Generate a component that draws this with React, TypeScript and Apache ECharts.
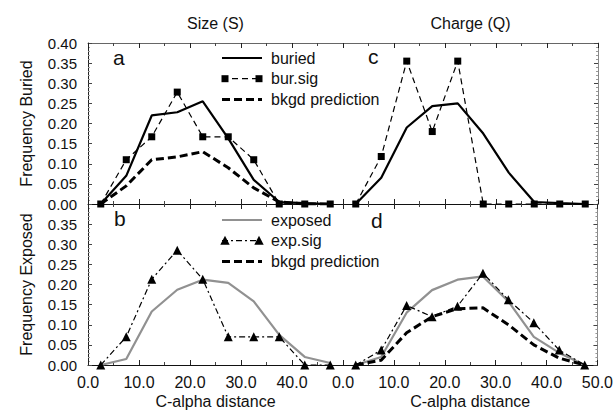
import React, { useEffect, useRef } from "react";
import * as echarts from "echarts";

const distances = [2.5, 7.5, 12.5, 17.5, 22.5, 27.5, 32.5, 37.5, 42.5, 47.5];

// Panel a (Size, buried)
const aBuried = [0, 0.07, 0.22, 0.228, 0.255, 0.163, 0.06, 0.005, 0.002, 0];
const aBurSig = [0, 0.11, 0.167, 0.278, 0.167, 0.167, 0.11, 0, 0, 0];
const aBkgd = [0, 0.045, 0.11, 0.117, 0.13, 0.09, 0.04, 0.005, 0, 0];

// Panel c (Charge, buried)
const cBuried = [0, 0.065, 0.19, 0.243, 0.25, 0.175, 0.078, 0.005, 0.002, 0];
const cBurSig = [0, 0.118, 0.355, 0.18, 0.355, 0, 0, 0, 0, 0];

// Panel b (Size, exposed)
const bExposed = [0, 0.015, 0.133, 0.187, 0.212, 0.204, 0.158, 0.075, 0.02, 0.005];
const bExpSig = [0, 0.07, 0.213, 0.285, 0.213, 0.07, 0.07, 0.07, 0, 0];

// Panel d (Charge, exposed)
const dExposed = [0, 0.02, 0.13, 0.186, 0.212, 0.22, 0.158, 0.07, 0.03, 0];
const dExpSig = [0, 0.037, 0.148, 0.12, 0.146, 0.228, 0.162, 0.105, 0.037, 0];
const dBkgd = [0, 0.012, 0.08, 0.12, 0.14, 0.142, 0.1, 0.05, 0.017, 0];

const topLegend = ["buried", "bur.sig", "bkgd prediction"];
const bottomLegend = ["exposed", "exp.sig", "bkgd prediction"];

const pairs = (ys: number[]) => distances.map((x, i) => [x, ys[i]]);

const FONT = "'Liberation Sans', Arial, Helvetica, sans-serif";
const INK = "#111";

const STYLES: Record<string, any> = {
  buried: { line: { color: "#000", width: 2.2 }, marker: "none" },
  "bur.sig": { line: { color: "#000", width: 1.2, type: [6, 4] }, marker: "rect" },
  "bkgd prediction": { line: { color: "#000", width: 3, type: [8, 4] }, marker: "none" },
  exposed: { line: { color: "#919191", width: 2.2 }, marker: "none" },
  "exp.sig": { line: { color: "#000", width: 1.2, type: [6, 3, 2, 3] }, marker: "triangle" },
};

function xAxis(gridIndex: number, position: "top" | "bottom", extra: any = {}) {
  return {
    type: "value",
    gridIndex,
    position,
    min: 0,
    max: 50,
    interval: 10,
    axisLine: { show: true, onZero: false, lineStyle: { color: position === "top" ? "#666" : "#111", width: 1 } },
    axisTick: { show: true, inside: true, length: 5, lineStyle: { color: "#222" } },
    minorTick: { show: true, splitNumber: 2, length: 3, lineStyle: { color: "#444" } },
    splitLine: { show: false },
    axisLabel: { show: false },
    ...extra,
  };
}

function yAxis(gridIndex: number, position: "left" | "right", extra: any = {}) {
  return {
    type: "value",
    gridIndex,
    position,
    min: 0,
    max: 0.4,
    interval: 0.05,
    axisLine: { show: true, onZero: false, lineStyle: { color: position === "left" ? "#222" : "#888", width: 1 } },
    axisTick: { show: true, inside: true, length: 4, lineStyle: { color: "#444" } },
    minorTick: { show: true, splitNumber: 5, length: 2, lineStyle: { color: "#999" } },
    splitLine: { show: false },
    axisLabel: { show: false },
    ...extra,
  };
}

const xLabel = (hideLast: boolean) => ({
  show: true,
  fontSize: 16,
  color: INK,
  margin: 9,
  formatter: (v: number) => (hideLast && v >= 50 ? "" : v.toFixed(1)),
});

const yLabel = (hideTop: boolean) => ({
  show: true,
  fontSize: 15,
  color: INK,
  margin: 11,
  formatter: (v: number) => (hideTop && v > 0.399 ? "" : v.toFixed(2)),
});

const nameStyle = { fontSize: 16, color: INK, fontFamily: FONT };

function legendGraphics(names: string[], top: number) {
  const els: any[] = [];
  const x0 = 222;
  const x1 = 262;
  names.forEach((name, i) => {
    const y = top + i * 20.7;
    const st = STYLES[name];
    const dash = Array.isArray(st.line.type) ? st.line.type : undefined;
    els.push({
      type: "line",
      shape: { x1: x0, y1: y, x2: x1, y2: y },
      style: { stroke: st.line.color, lineWidth: st.line.width, lineDash: dash },
      z: 10,
    });
    [x0 + 3, x1 - 3].forEach((cx) => {
      if (st.marker === "rect") {
        els.push({ type: "rect", shape: { x: cx - 3.5, y: y - 3.5, width: 7, height: 7 }, style: { fill: "#000" }, z: 11 });
      } else if (st.marker === "triangle") {
        els.push({
          type: "polygon",
          shape: { points: [[cx, y - 5], [cx + 4.7, y + 4], [cx - 4.7, y + 4]] },
          style: { fill: "#000" },
          z: 11,
        });
      }
    });
    els.push({
      type: "text",
      x: 271,
      y,
      style: { text: name, fontSize: 16, fill: INK, fontFamily: FONT, verticalAlign: "middle", align: "left" },
      z: 11,
    });
  });
  return els;
}

export default function App() {
  const ref = useRef<HTMLDivElement>(null);
  useEffect(() => {
    if (!ref.current) return;
    const chart = echarts.init(ref.current, undefined, { renderer: "svg" });
    const line = (name: string, idx: number, ys: number[], z: number) => {
      const st = STYLES[name];
      return {
        name,
        type: "line",
        xAxisIndex: idx,
        yAxisIndex: idx,
        symbol: st.marker,
        symbolSize: st.marker === "triangle" ? 9 : 7,
        lineStyle: st.line,
        itemStyle: { color: st.marker === "none" ? st.line.color : "#000" },
        data: pairs(ys),
        z,
      };
    };
    const option: any = {
      animation: false,
      textStyle: { fontFamily: FONT, color: INK },
      grid: [
        { left: 88, top: 43, width: 255, height: 161 },
        { left: 343, top: 43, width: 255, height: 161 },
        { left: 88, top: 204, width: 255, height: 161 },
        { left: 343, top: 204, width: 255, height: 161 },
      ],
      xAxis: [
        xAxis(0, "bottom"),
        xAxis(1, "bottom"),
        xAxis(2, "bottom", {
          axisLabel: xLabel(true),
          name: "C-alpha distance",
          nameLocation: "middle",
          nameGap: 28,
          nameTextStyle: nameStyle,
        }),
        xAxis(3, "bottom", {
          axisLabel: xLabel(false),
          name: "C-alpha distance",
          nameLocation: "middle",
          nameGap: 28,
          nameTextStyle: nameStyle,
        }),
        xAxis(0, "top", { name: "Size (S)", nameLocation: "middle", nameGap: 12, nameTextStyle: nameStyle }),
        xAxis(1, "top", { name: "Charge (Q)", nameLocation: "middle", nameGap: 12, nameTextStyle: nameStyle }),
        xAxis(2, "top", { axisLine: { show: false, onZero: false } }),
        xAxis(3, "top", { axisLine: { show: false, onZero: false } }),
      ],
      yAxis: [
        yAxis(0, "left", {
          axisLabel: yLabel(false),
          name: "Frequency Buried",
          nameLocation: "middle",
          nameGap: 54,
          nameTextStyle: nameStyle,
        }),
        yAxis(1, "right"),
        yAxis(2, "left", {
          axisLabel: yLabel(true),
          name: "Frequency Exposed",
          nameLocation: "middle",
          nameGap: 54,
          nameTextStyle: nameStyle,
        }),
        yAxis(3, "right"),
      ],
      graphic: [
        { type: "text", left: 113, top: 47, style: { text: "a", fontSize: 21, fill: INK, fontFamily: FONT } },
        { type: "text", left: 368, top: 46, style: { text: "c", fontSize: 21, fill: INK, fontFamily: FONT } },
        { type: "text", left: 114, top: 208, style: { text: "b", fontSize: 21, fill: INK, fontFamily: FONT } },
        { type: "text", left: 371, top: 210, style: { text: "d", fontSize: 21, fill: INK, fontFamily: FONT } },
        ...legendGraphics(topLegend, 58),
        ...legendGraphics(bottomLegend, 220),
      ],
      series: [
        line("bkgd prediction", 0, aBkgd, 2),
        line("buried", 0, aBuried, 3),
        line("bur.sig", 0, aBurSig, 4),
        line("buried", 1, cBuried, 3),
        line("bur.sig", 1, cBurSig, 4),
        line("exposed", 2, bExposed, 2),
        line("exp.sig", 2, bExpSig, 4),
        line("exposed", 3, dExposed, 2),
        line("bkgd prediction", 3, dBkgd, 3),
        line("exp.sig", 3, dExpSig, 4),
      ],
    };
    chart.setOption(option);
    return () => chart.dispose();
  }, []);
  return <div ref={ref} style={{ position: "fixed", left: 0, top: 0, width: 616, height: 411, background: "#fff" }} />;
}
